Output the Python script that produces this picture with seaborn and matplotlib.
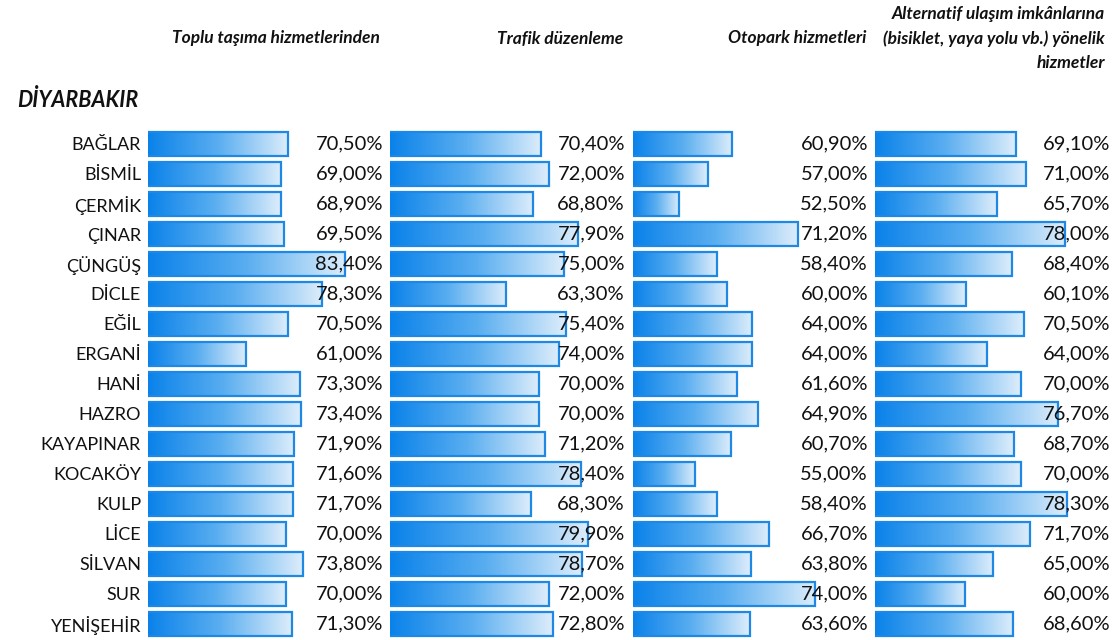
import numpy as np
import pandas as pd
import matplotlib
matplotlib.use('Agg')
import matplotlib.pyplot as plt
from matplotlib.colors import LinearSegmentedColormap
import seaborn as sns

ilceler = ['BAĞLAR', 'BİSMİL', 'ÇERMİK', 'ÇINAR', 'ÇÜNGÜŞ', 'DİCLE', 'EĞİL', 'ERGANİ',
           'HANİ', 'HAZRO', 'KAYAPINAR', 'KOCAKÖY', 'KULP', 'LİCE', 'SİLVAN', 'SUR', 'YENİŞEHİR']

toplu_tasima = [70.5, 69.0, 68.9, 69.5, 83.4, 78.3, 70.5, 61.0, 73.3, 73.4, 71.9, 71.6, 71.7, 70.0, 73.8, 70.0, 71.3]
trafik = [70.4, 72.0, 68.8, 77.9, 75.0, 63.3, 75.4, 74.0, 70.0, 70.0, 71.2, 78.4, 68.3, 79.9, 78.7, 72.0, 72.8]
otopark = [60.9, 57.0, 52.5, 71.2, 58.4, 60.0, 64.0, 64.0, 61.6, 64.9, 60.7, 55.0, 58.4, 66.7, 63.8, 74.0, 63.6]
alternatif = [69.1, 71.0, 65.7, 78.0, 68.4, 60.1, 70.5, 64.0, 70.0, 76.7, 68.7, 70.0, 78.3, 71.7, 65.0, 60.0, 68.6]

basliklar = ['Toplu taşıma hizmetlerinden', 'Trafik düzenleme', 'Otopark hizmetleri',
             'Alternatif ulaşım imkânlarına\n(bisiklet, yaya yolu vb.) yönelik\nhizmetler']
baslik_sag = [380, 623, 866, 1105]  # right edge of header text in px

# per-panel axis range (Excel data bar style min/max)
eksen = [(38.8, 92.0), (39.8, 87.4), (45.2, 82.3), (43.8, 86.0)]
panel_sol = [148, 390, 633, 875]
panel_gen = 235

seriler = [toplu_tasima, trafik, otopark, alternatif]

W, H = 1113, 640
sns.set_theme(style='white')
plt.rcParams['font.family'] = ['Lato', 'DejaVu Sans']

fig = plt.figure(figsize=(W / 100, H / 100), dpi=100)
cmap = LinearSegmentedColormap.from_list('bar', ['#0A82EA', '#5AAEF0', '#DDEDFB'])
grad = np.linspace(0, 1, 256).reshape(1, -1)

top_px, bot_px = 129, 639
for i, vals in enumerate(seriler):
    ax = fig.add_axes([panel_sol[i] / W, 1 - bot_px / H, panel_gen / W, (bot_px - top_px) / H])
    df = pd.DataFrame({'ilce': ilceler, 'deger': vals})
    sns.barplot(data=df, x='deger', y='ilce', orient='h', ax=ax, width=0.77,
                color='#1E88E5', saturation=1)
    ax.set_xlim(*eksen[i])
    ax.set_ylim(len(ilceler) - 0.5, -0.5)
    for p in ax.patches:
        x0 = eksen[i][0]
        x1 = p.get_x() + p.get_width()
        y0 = p.get_y()
        y1 = y0 + p.get_height()
        im = ax.imshow(grad, cmap=cmap, aspect='auto', extent=[x0, x1, y1, y0], zorder=2)
        im.set_clip_path(p)
        p.set_facecolor('none')
        p.set_edgecolor('#1E88E5')
        p.set_linewidth(1.6)
        p.set_zorder(3)
    for j, v in enumerate(vals):
        ax.text(1.0, j, f'{v:.2f}'.replace('.', ',') + '%', transform=ax.get_yaxis_transform(),
                ha='right', va='center', fontsize=14.5, color='#111111', zorder=5)
    ax.set_xlabel('')
    ax.set_ylabel('')
    ax.set_xticks([])
    if i == 0:
        ax.tick_params(axis='y', length=0, pad=5, labelsize=13, labelcolor='#111111')
    else:
        ax.set_yticks([])
    for s in ax.spines.values():
        s.set_visible(False)
    ax.patch.set_alpha(0)

    fig.text(baslik_sag[i] / W, 1 - 38.5 / H, basliklar[i], ha='right', va='center',
             fontsize=12.5, fontweight='bold', fontstyle='italic', color='#111111',
             linespacing=1.6)

fig.text(17 / W, 1 - 100 / H, 'DİYARBAKIR', ha='left', va='center', fontsize=15.5,
         fontweight='bold', fontstyle='italic', color='#111111')

fig.savefig('out.png', dpi=100)
